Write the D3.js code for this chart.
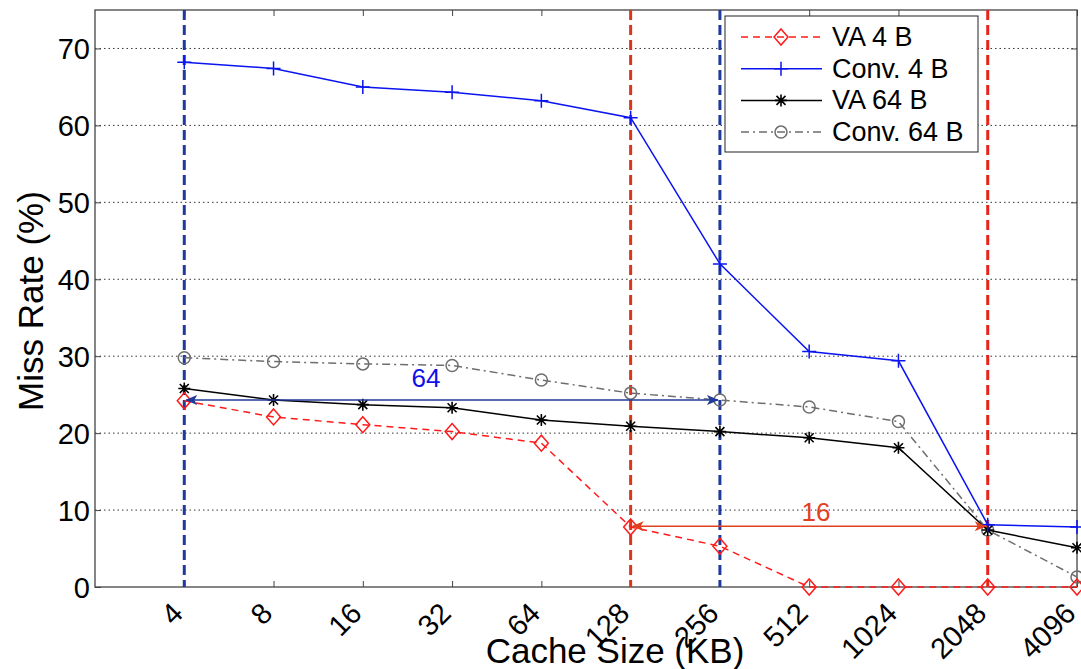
<!DOCTYPE html>
<html>
<head>
<meta charset="utf-8">
<script src="https://cdn.jsdelivr.net/npm/d3@7"></script>
<style>
  body { margin: 0; background: #fff; }
  svg { font-family: "Liberation Sans", Arial, Helvetica, sans-serif; }
</style>
</head>
<body>
<svg id="chart" width="1081" height="669"></svg>
<script>
// Cache sizes (KB) on the x axis
const cacheSizes = [4, 8, 16, 32, 64, 128, 256, 512, 1024, 2048, 4096];
// Miss rate (%) per series
const va4 = [24.2, 22.1, 21.1, 20.2, 18.7, 7.8, 5.3, 0, 0, 0, 0];
const conv4 = [68.2, 67.4, 65.0, 64.3, 63.2, 61.0, 42.0, 30.6, 29.4, 8.1, 7.8];
const va64 = [25.8, 24.3, 23.7, 23.3, 21.7, 20.9, 20.2, 19.4, 18.1, 7.4, 5.1];
const conv64 = [29.8, 29.3, 29.0, 28.8, 26.9, 25.2, 24.3, 23.4, 21.5, 7.4, 1.3];
const yTicks = [0, 10, 20, 30, 40, 50, 60, 70];
const seriesNames = ["VA 4 B", "Conv. 4 B", "VA 64 B", "Conv. 64 B"];

// Annotations: equal-miss-rate spans
const spanBlue = { from: 4, to: 256, level: 24.3, label: "64" };
const spanRed = { from: 128, to: 2048, level: 7.9, label: "16" };

const svg = d3.select("#chart");
const m = { left: 95, right: 1077, top: 10, bottom: 587 };

const x = d3.scaleLog().base(2).domain([2, 4096]).range([m.left, m.right]);
const y = d3.scaleLinear().domain([0, 75]).range([m.bottom, m.top]);

const defs = svg.append("defs");
function arrowHead(id, color) {
  defs.append("marker").attr("id", id).attr("viewBox", "0 0 12 10")
    .attr("refX", 11).attr("refY", 5).attr("markerWidth", 13).attr("markerHeight", 10)
    .attr("markerUnits", "userSpaceOnUse").attr("orient", "auto-start-reverse")
    .append("path").attr("d", "M0,0 L12,5 L0,10 L3,5 Z").attr("fill", color);
}
arrowHead("arrBlue", "#1f3a9a");
arrowHead("arrRed", "#e0401e");

// horizontal dotted grid
svg.append("g").selectAll("line").data(yTicks.filter(d => d > 0)).join("line")
  .attr("x1", m.left).attr("x2", m.right)
  .attr("y1", d => y(d)).attr("y2", d => y(d))
  .attr("stroke", "#333").attr("stroke-width", 1).attr("stroke-dasharray", "1.5,3");

// axes
const axisColor = "#444";
const gx = svg.append("g").attr("transform", `translate(0,${m.bottom})`)
  .call(d3.axisBottom(x).tickValues(cacheSizes).tickSize(-6).tickFormat(d3.format("d")));
gx.select(".domain").remove();
gx.selectAll(".tick line").attr("stroke", axisColor);
gx.selectAll(".tick text")
  .attr("font-size", 29).attr("fill", "#000")
  .attr("text-anchor", "end")
  .attr("x", 0).attr("y", 0).attr("dy", 0)
  .attr("transform", "translate(0,28) rotate(-45)");

const gxTop = svg.append("g").attr("transform", `translate(0,${m.top})`)
  .call(d3.axisTop(x).tickValues(cacheSizes).tickSize(-6).tickFormat(""));
gxTop.select(".domain").remove();
gxTop.selectAll(".tick line").attr("stroke", axisColor);

const gy = svg.append("g").attr("transform", `translate(${m.left},0)`)
  .call(d3.axisLeft(y).tickValues(yTicks).tickSize(-6).tickPadding(5));
gy.select(".domain").remove();
gy.selectAll(".tick line").attr("stroke", axisColor);
gy.selectAll(".tick text").attr("font-size", 29).attr("fill", "#000").attr("dy", "0.36em");

const gyR = svg.append("g").attr("transform", `translate(${m.right},0)`)
  .call(d3.axisRight(y).tickValues(yTicks).tickSize(-6).tickFormat(""));
gyR.select(".domain").remove();
gyR.selectAll(".tick line").attr("stroke", axisColor);

svg.append("rect").attr("x", m.left).attr("y", m.top)
  .attr("width", m.right - m.left).attr("height", m.bottom - m.top)
  .attr("fill", "none").attr("stroke", axisColor).attr("stroke-width", 1.3);

// axis titles
svg.append("text").attr("x", 615).attr("y", 663).attr("text-anchor", "middle")
  .attr("font-size", 35).text("Cache Size (KB)");
svg.append("text").attr("transform", "translate(43,301) rotate(-90)")
  .attr("text-anchor", "middle").attr("font-size", 35).text("Miss Rate (%)");

// vertical reference lines
const vlines = [
  { at: 4, color: "#1f3a9a" },
  { at: 256, color: "#1f3a9a" },
  { at: 128, color: "#d9361a" },
  { at: 2048, color: "#e8241a" }
];
svg.append("g").selectAll("line").data(vlines).join("line")
  .attr("x1", d => x(d.at)).attr("x2", d => x(d.at))
  .attr("y1", m.top).attr("y2", m.bottom)
  .attr("stroke", d => d.color).attr("stroke-width", 3).attr("stroke-dasharray", "10,5");

// series
const series = [
  { name: seriesNames[0], values: va4, color: "#ff1a1a", dash: "7,5", marker: "diamond" },
  { name: seriesNames[1], values: conv4, color: "#0a14f0", dash: null, marker: "plus" },
  { name: seriesNames[2], values: va64, color: "#000", dash: null, marker: "star" },
  { name: seriesNames[3], values: conv64, color: "#6e6e6e", dash: "8,4,2,4", marker: "circle" }
];

function drawMarker(g, type, cx, cy, color) {
  if (type === "diamond") {
    g.append("path").attr("d", `M${cx},${cy - 8}L${cx + 7},${cy}L${cx},${cy + 8}L${cx - 7},${cy}Z`)
      .attr("fill", "none").attr("stroke", color).attr("stroke-width", 1.5);
  } else if (type === "plus") {
    g.append("path").attr("d", `M${cx - 7},${cy}H${cx + 7}M${cx},${cy - 7}V${cy + 7}`)
      .attr("stroke", color).attr("stroke-width", 1.5);
  } else if (type === "star") {
    const r = 6, s = r * 0.75;
    g.append("path").attr("d",
      `M${cx - r},${cy}H${cx + r}M${cx},${cy - r}V${cy + r}M${cx - s},${cy - s}L${cx + s},${cy + s}M${cx - s},${cy + s}L${cx + s},${cy - s}`)
      .attr("stroke", color).attr("stroke-width", 1.6);
  } else {
    g.append("circle").attr("cx", cx).attr("cy", cy).attr("r", 6)
      .attr("fill", "none").attr("stroke", color).attr("stroke-width", 1.5);
  }
}

const line = d3.line().x((d, i) => x(cacheSizes[i])).y(d => y(d));
// draw back to front: Conv 64, VA 64, Conv 4, VA 4
const order = [3, 2, 1, 0];
order.forEach(k => {
  const s = series[k];
  const g = svg.append("g");
  g.append("path").datum(s.values).attr("d", line)
    .attr("fill", "none").attr("stroke", s.color).attr("stroke-width", 1.5)
    .attr("stroke-dasharray", s.dash);
  s.values.forEach((v, i) => drawMarker(g, s.marker, x(cacheSizes[i]), y(v), s.color));
});

// span arrows
function span(a, color, mid, textColor, tx, ty) {
  svg.append("line")
    .attr("x1", x(a.from) + 2).attr("x2", x(a.to) - 2)
    .attr("y1", y(a.level)).attr("y2", y(a.level))
    .attr("stroke", color).attr("stroke-width", 1.6)
    .attr("marker-start", `url(#${mid})`).attr("marker-end", `url(#${mid})`);
  svg.append("text").attr("x", tx).attr("y", ty).attr("text-anchor", "middle")
    .attr("font-size", 26).attr("fill", textColor).text(a.label);
}
span(spanBlue, "#1f3a9a", "arrBlue", "#1010e8", 426, 387);
span(spanRed, "#e0401e", "arrRed", "#e0401e", 816, 521);

// legend
const lg = svg.append("g");
lg.append("rect").attr("x", 725).attr("y", 16).attr("width", 253).attr("height", 136)
  .attr("fill", "#fff").attr("stroke", "#222").attr("stroke-width", 1);
series.forEach((s, i) => {
  const ly = 37 + i * 31.7;
  lg.append("line").attr("x1", 741).attr("x2", 822).attr("y1", ly).attr("y2", ly)
    .attr("stroke", s.color).attr("stroke-width", 1.5).attr("stroke-dasharray", s.dash);
  drawMarker(lg, s.marker, 781, ly, s.color);
  lg.append("text").attr("x", 832).attr("y", ly + 9).attr("font-size", 27).text(s.name);
});
</script>
</body>
</html>
